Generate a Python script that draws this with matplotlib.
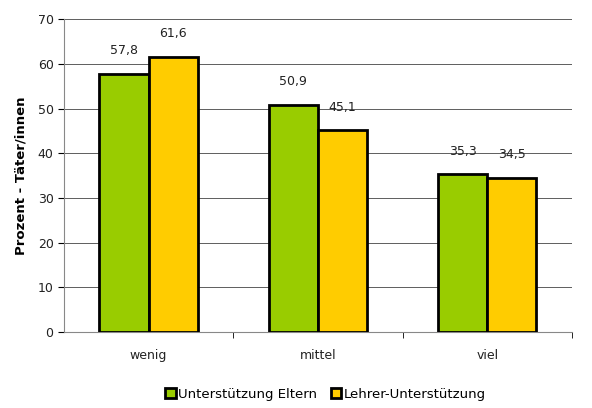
import matplotlib
matplotlib.use("Agg")
import matplotlib.pyplot as plt
import numpy as np

categories = ["wenig", "mittel", "viel"]
series_names = ["Unterstützung Eltern", "Lehrer-Unterstützung"]
eltern = [57.8, 50.9, 35.3]
lehrer = [61.6, 45.1, 34.5]
colors = ["#99CC00", "#FFCC00"]

fig = plt.figure(figsize=(5.92, 4.08), dpi=100)
ax = fig.add_axes([0.108, 0.186, 0.858, 0.767])

x = np.arange(len(categories))
w = 0.29
for i, (vals, c) in enumerate(zip([eltern, lehrer], colors)):
    ax.bar(x + (i - 0.5) * w, vals, w, color=c, edgecolor="black", linewidth=2,
           label=series_names[i], zorder=3)
    for xi, v in zip(x + (i - 0.5) * w, vals):
        ax.text(xi, v + 3.7, f"{v:.1f}".replace(".", ","), ha="center", va="bottom",
                fontsize=9, color="#222222")

ax.set_xlim(-0.5, 2.5)
ax.set_ylim(0, 70)
ax.set_yticks(range(0, 71, 10))
ax.set_xticks([0.5, 1.5, 2.5], minor=True)
ax.set_xticks(x)
ax.set_xticklabels(categories, fontsize=9, color="#222222")
ax.tick_params(axis="x", which="major", length=0, pad=12)
ax.tick_params(axis="x", which="minor", length=4, direction="out")
ax.tick_params(axis="y", labelsize=9, length=4, direction="out", labelcolor="#222222")
ax.grid(axis="y", color="#444444", linewidth=0.6, zorder=0)
for s in ["top", "right"]:
    ax.spines[s].set_visible(False)
ax.spines["left"].set_color("#888888")
ax.spines["bottom"].set_color("#888888")
ax.set_ylabel("Prozent - Täter/innen", fontsize=9.5, fontweight="bold", labelpad=7)

fig.legend(loc="lower center", bbox_to_anchor=(0.55, -0.012), ncol=2, frameon=False,
           fontsize=9.5, handlelength=0.8, handleheight=0.8, handletextpad=0.2,
           columnspacing=1.0)
fig.savefig("out.png", dpi=100)
